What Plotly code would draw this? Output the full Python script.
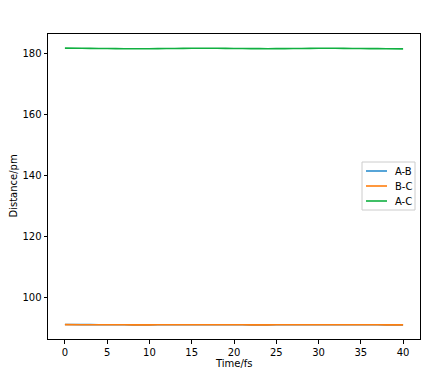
import plotly.graph_objects as go

time_fs = [0, 2, 4, 6, 8, 10, 12, 14, 16, 18, 20, 22, 24, 26, 28, 30, 32, 34, 36, 38, 40]
ab = [91.1, 91.05, 91.0, 90.98, 90.97, 90.97, 90.98, 91.0, 91.0, 90.99, 90.98, 90.97, 90.97, 90.98, 90.99, 91.0, 91.0, 90.99, 90.98, 90.97, 90.96]
bc = [91.05, 91.02, 91.0, 90.98, 90.97, 90.97, 90.98, 91.0, 91.0, 90.99, 90.98, 90.97, 90.97, 90.98, 90.99, 91.0, 91.0, 90.99, 90.98, 90.97, 90.96]
ac = [181.6, 181.55, 181.5, 181.45, 181.4, 181.42, 181.47, 181.52, 181.56, 181.54, 181.5, 181.45, 181.42, 181.45, 181.5, 181.55, 181.55, 181.5, 181.45, 181.4, 181.36]
series_names = ["A-B", "B-C", "A-C"]
colors = ["#2e8fcf", "#ff7f0e", "#10b040"]
x_title = "Time/fs"
y_title = "Distance/pm"

W, H = 433, 374
ML, MR, MT, MB = 48, 13, 34, 35
PW, PH = W - ML - MR, H - MT - MB


def px(x):
    return (x - ML) / PW


def py(y):
    return (H - MB - y) / PH


fig = go.Figure()
for name, vals, c in zip(series_names, [ab, bc, ac], colors):
    fig.add_trace(go.Scatter(x=time_fs, y=vals, mode="lines", name=name,
                             line=dict(color=c, width=1.6, shape="spline"),
                             showlegend=False))

axis_common = dict(showline=True, linecolor="black", linewidth=1, mirror=True,
                   ticks="outside", ticklen=3.5, tickcolor="black", showgrid=False,
                   zeroline=False, automargin=False,
                   tickfont=dict(size=10, color="black"))
fig.update_xaxes(range=[-2, 42], tickvals=[0, 5, 10, 15, 20, 25, 30, 35, 40],
                 **axis_common)
fig.update_yaxes(range=[86.33, 186.23], tickvals=[100, 120, 140, 160, 180],
                 **axis_common)

# manual matplotlib-style legend
shapes = [dict(type="rect", xref="paper", yref="paper",
               x0=px(362), x1=px(415), y0=py(210), y1=py(162),
               line=dict(color="#cccccc", width=1), fillcolor="white",
               layer="above")]
annotations = [
    dict(xref="paper", yref="paper", x=px(234), y=py(363), text=x_title,
         showarrow=False, xanchor="center", yanchor="middle",
         font=dict(size=10, color="black")),
    dict(xref="paper", yref="paper", x=px(13), y=py(186.5), text=y_title,
         showarrow=False, xanchor="center", yanchor="middle", textangle=-90,
         font=dict(size=10, color="black")),
]
for i, (name, c) in enumerate(zip(series_names, colors)):
    yy = 171 + 15 * i
    shapes.append(dict(type="line", xref="paper", yref="paper",
                       x0=px(366), x1=px(387), y0=py(yy), y1=py(yy),
                       line=dict(color=c, width=1.6), layer="above"))
    annotations.append(dict(xref="paper", yref="paper", x=px(393), y=py(yy),
                            text=name, showarrow=False, xanchor="left",
                            yanchor="middle", font=dict(size=10, color="black")))

fig.update_layout(
    width=W, height=H,
    margin=dict(l=ML, r=MR, t=MT, b=MB, autoexpand=False),
    paper_bgcolor="white", plot_bgcolor="white",
    font=dict(family="DejaVu Sans", size=10, color="black"),
    shapes=shapes, annotations=annotations, showlegend=False,
)
fig.write_html("out.html")
